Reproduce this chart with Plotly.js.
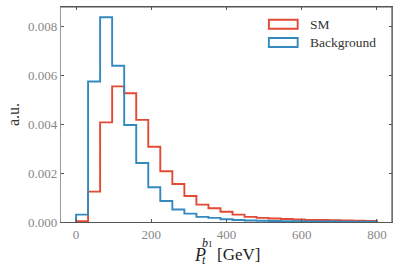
<!DOCTYPE html>
<html>
<head>
<meta charset="utf-8">
<script src="https://cdn.plot.ly/plotly-3.0.1.min.js"></script>
<style>html,body{margin:0;padding:0;background:#fff}#chart{width:399px;height:270px}</style>
</head>
<body>
<div id="chart"></div>
<script>
const binEdges = [0,32,64,96,128,160,192,224,256,288,320,352,384,416,448,480,512,544,576,608,640,672,704,736,768,800];
const smValues = [0.00003,0.00124,0.00407,0.00554,0.00526,0.00417,0.00307,0.00207,0.00155,0.00106,0.00071,0.00056,0.00042,0.00030,0.00021,0.00017,0.00014,0.00012,0.00010,0.00008,0.00008,0.00007,0.00006,0.00005,0.00004];
const bgValues = [0.00030,0.00574,0.00836,0.00638,0.00396,0.00241,0.00142,0.00086,0.00051,0.00034,0.00021,0.00017,0.00011,0.00008,0.00006,0.00005,0.00004,0.00003,0.00003,0.00002,0.00002,0.00002,0.00001,0.00001,0.00001];
const seriesNames = ["SM", "Background"];
const seriesColors = ["#E24A33", "#348ABD"];
const xTicks = [0,200,400,600,800];
const yTicks = [0.000,0.002,0.004,0.006,0.008];
const yTickText = ["0.000","0.002","0.004","0.006","0.008"];

function stepXY(edges, vals){
  const x = [edges[0]];
  const y = [0];
  for (let i = 0; i < vals.length; i++){ x.push(edges[i]); y.push(vals[i]); }
  x.push(edges[edges.length-1]); y.push(0);
  return {x, y};
}
const s1 = stepXY(binEdges, smValues);
const s2 = stepXY(binEdges, bgValues);
const serif = "Liberation Serif, DejaVu Serif, serif";
const traces = [
  {x: s1.x, y: s1.y, name: seriesNames[0], type: "scatter", mode: "lines",
   line: {shape: "hv", color: seriesColors[0], width: 1.9}},
  {x: s2.x, y: s2.y, name: seriesNames[1], type: "scatter", mode: "lines",
   line: {shape: "hv", color: seriesColors[1], width: 1.9}}
];

// legend drawn as outlined patches (matplotlib style) with labels
const legShapes = [];
const legAnn = [];
const legRowY = [0.920, 0.835];
for (let i = 0; i < seriesNames.length; i++){
  legShapes.push({type: "rect", xref: "paper", yref: "paper",
    x0: 0.628, x1: 0.715, y0: legRowY[i] - 0.021, y1: legRowY[i] + 0.021,
    line: {color: seriesColors[i], width: 1.9}, fillcolor: "rgba(0,0,0,0)"});
  legAnn.push({xref: "paper", yref: "paper", x: 0.745, y: legRowY[i], xanchor: "left", yanchor: "middle",
    showarrow: false, text: seriesNames[i], font: {family: serif, size: 13.5, color: "#333"}});
}

const layout = {
  width: 399, height: 270,
  margin: {l: 61, r: 7, t: 7, b: 48},
  paper_bgcolor: "#fff", plot_bgcolor: "#fff",
  showlegend: false,
  xaxis: {range: [-40, 840], tickvals: xTicks, ticktext: xTicks.map(String), ticks: "inside", ticklen: 3,
          tickcolor: "#555", showgrid: false, zeroline: false, showline: true, linecolor: "#555", linewidth: 1.2,
          mirror: "ticks", tickfont: {family: serif, size: 13, color: "#888"}},
  yaxis: {range: [0, 0.00878], tickvals: yTicks, ticktext: yTickText, ticks: "inside", ticklen: 3,
          tickcolor: "#555", showgrid: false, zeroline: false, showline: true, linecolor: "#999", linewidth: 1.2,
          mirror: "ticks", tickfont: {family: serif, size: 13, color: "#888"},
          title: {text: "a.u.", font: {family: serif, size: 16, color: "#333"}, standoff: 4}},
  shapes: [
    {type: "line", xref: "paper", yref: "paper", x0: 1, x1: 1, y0: 0, y1: 1, line: {color: "#555", width: 1.2}},
    {type: "line", xref: "paper", yref: "paper", x0: 0, x1: 1, y0: 1, y1: 1, line: {color: "#555", width: 1.2}}
  ].concat(legShapes),
  annotations: [
    {xref: "paper", yref: "paper", x: 0.396, y: -0.098, xanchor: "left", yanchor: "top", showarrow: false,
     text: "<i>P</i>", font: {family: serif, size: 18, color: "#222"}},
    {xref: "paper", yref: "paper", x: 0.42, y: -0.135, xanchor: "left", yanchor: "top", showarrow: false,
     text: "<i>t</i>", font: {family: serif, size: 12, color: "#222"}},
    {xref: "paper", yref: "paper", x: 0.42, y: -0.056, xanchor: "left", yanchor: "top", showarrow: false,
     text: "<i>b</i><span style='font-size:9px'>1</span>", font: {family: serif, size: 12, color: "#222"}},
    {xref: "paper", yref: "paper", x: 0.464, y: -0.098, xanchor: "left", yanchor: "top", showarrow: false,
     text: "[GeV]", font: {family: serif, size: 17, color: "#222"}}
  ].concat(legAnn)
};
Plotly.newPlot("chart", traces, layout, {displayModeBar: false, staticPlot: true});
</script>
</body>
</html>
